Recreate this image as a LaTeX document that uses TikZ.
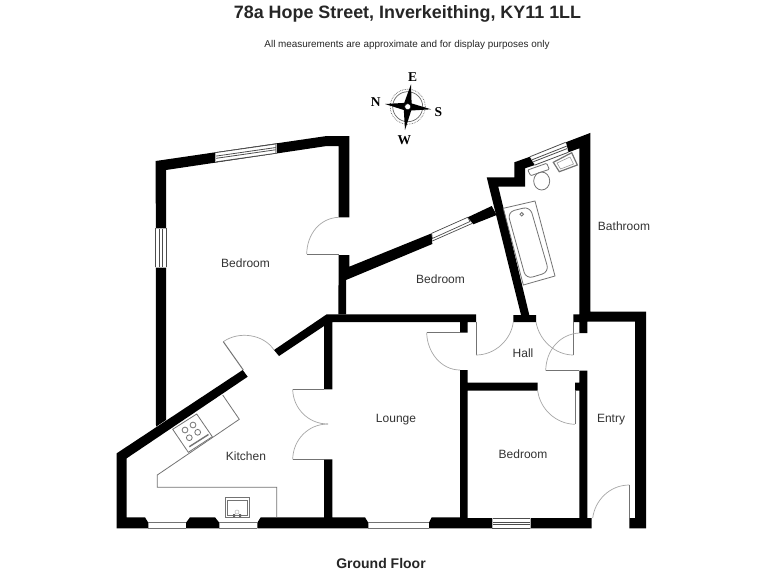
\documentclass[tikz,border=0pt]{standalone}
\usepackage{fontspec}
\setmainfont{Liberation Sans}
\newfontfamily\compassfont{Liberation Serif}
\usetikzlibrary{calc}
\tikzset{
  wall/.style={fill=black,draw=none},
  fixture/.style={draw=black!55,line width=0.8pt,fill=none},
  swing/.style={draw=black!35,line width=0.7pt},
  leaf/.style={draw=black!55,line width=1pt},
  roomlabel/.style={font=\fontsize{12pt}{14pt}\selectfont,text=black!80,inner sep=0pt},
  compassletter/.style={font=\compassfont\bfseries\fontsize{13.5pt}{15pt}\selectfont,inner sep=0pt},
  sill/.style={draw=black!55,line width=1pt},
}
\newcommand{\flatwindow}[4]{%
  \fill[white] #1 -- #2 -- #3 -- #4 -- cycle;
  \draw[black!70,line width=0.8pt] #1 -- #2 ($#1!.38!#4$) -- ($#2!.38!#3$) ($#1!.62!#4$) -- ($#2!.62!#3$) #4 -- #3;
  \draw[black!30,line width=0.4pt] #1 -- #4 #2 -- #3;
}
\begin{document}
\begin{tikzpicture}[x=1pt,y=-1pt]
\useasboundingbox (0,0) rectangle (768,576);
\fill[white] (0,0) rectangle (768,576);
% titles
\node[font=\bfseries\fontsize{17.9pt}{20pt}\selectfont,text=black!85,inner sep=0pt] (title) at (407.5,14) {78a Hope Street, Inverkeithing, KY11 1LL};
\node[font=\fontsize{9.9pt}{12pt}\selectfont,text=black!85,inner sep=0pt] (subtitle) at (407,45) {All measurements are approximate and for display purposes only};
\node[font=\bfseries\fontsize{14pt}{16pt}\selectfont,text=black!85,inner sep=0pt] (floor) at (381,563) {Ground Floor};
% compass
\coordinate (cc) at (407.7,106.7);
\draw[black!60,line width=0.7pt] (cc) circle (15);
\draw[black!60,line width=0.7pt,densely dotted] (cc) circle (17.5);
\fill[black] (385,104) -- (404.2,102.9) -- (411,84.3) -- (411.6,103.4) -- (431,109.3) -- (411.2,110.5) -- (405,130) -- (403.8,110) -- cycle;
\fill[white] (cc) circle (3);
\draw[black,line width=0.4pt] (cc) circle (3);
\node[compassletter] (cn) at (375.7,102.3) {N};
\node[compassletter] (ce) at (412.7,77.3) {E};
\node[compassletter] (cs) at (438.3,111.7) {S};
\node[compassletter] (cw) at (404.3,140) {W};
% bedroom 1 walls
\path[wall] (155.7,161) -- (326.7,136) -- (349.3,136) -- (349.3,217.3) -- (338.7,217.3) -- (338.7,146) -- (326.7,146) -- (166,170) -- (166,420) -- (156,426.7) -- cycle;
\flatwindow{(215,152.7)}{(275.7,144)}{(275.7,153.3)}{(215,162)}
\flatwindow{(155.7,228.3)}{(155.7,267.3)}{(166,267.3)}{(166,228.3)}
% centre wall and diagonal with windows
\path[wall] (338.7,255) -- (349.3,255) -- (349.3,266.7) -- (431.7,233.3) -- (432.3,244) -- (346,280) -- (346,314.3) -- (338.3,314.3) -- cycle;
\path[wall] (467.7,217.3) -- (491.7,206) -- (496.7,215) -- (473.3,224.3) -- cycle;
\draw[black!70,line width=0.7pt,fill=white] (431.7,233.3) -- (467.7,217.3) -- (470,221.5) -- (432.3,238.5) -- cycle;
\draw[black!70,line width=0.7pt] (432.3,241) -- (472,223.5);
% bathroom walls
\path[wall] (486.7,177.3) -- (514.3,177.3) -- (514.3,162.3) -- (530,156.7) -- (535,165) -- (525,168.3) -- (525,186.7) -- (498.3,186.7) -- (529.3,315) -- (536,315) -- (536,322) -- (513.3,322) -- (513.3,315) -- (521,315) -- cycle;
\path[wall] (565.7,142.3) -- (590.4,132.9) -- (590.4,311.7) -- (646,311.7) -- (646,528.3) -- (629.3,528.3) -- (629.3,518) -- (635,518) -- (635,321.7) -- (587.3,321.7) -- (587.3,333) -- (579.3,333) -- (579.3,322) -- (573.3,322) -- (573.3,314.3) -- (579.3,314.3) -- (579.3,148.3) -- (568.3,152.3) -- cycle;
\flatwindow{(530,156.7)}{(565.7,142.3)}{(568.3,152.3)}{(535,165)}
% long horizontal walls
\path[wall] (326.7,314.3) -- (476,314.3) -- (476,322) -- (467.7,322) -- (467.7,332.7) -- (460,332.7) -- (460,322) -- (332.3,322) -- (332.3,389.3) -- (324,389.3) -- (324,326) -- (279,356) -- (274,350) -- cycle;
% kitchen outer + bottom
\path[wall] (116.7,453.3) -- (242.7,370) -- (247.7,376.7) -- (126.7,458.3) -- (126.7,517.3) -- (145,517.3) -- (148.3,522.7) -- (148.3,528.3) -- (116.7,528.3) -- cycle;
\path[wall] (186,528.3) -- (186,522.7) -- (190,517.3) -- (215,517.3) -- (219.3,522.7) -- (219.3,528.3) -- cycle;
\path[wall] (257.3,528.3) -- (257.3,522.7) -- (260.7,517.3) -- (324,517.3) -- (324,459.3) -- (332.3,459.3) -- (332.3,517.3) -- (365,517.3) -- (368.3,522.7) -- (368.3,528.3) -- cycle;
\draw[sill] (148.3,522.3) -- (186,522.3) (148.3,528) -- (186,528);
\draw[sill] (219.3,522.3) -- (257.3,522.3) (219.3,528) -- (257.3,528);
\draw[sill] (368.3,522.3) -- (429,522.3) (368.3,528) -- (429,528);
\path[wall] (429,528.3) -- (429,522.7) -- (431.7,517.3) -- (460,517.3) -- (460,370) -- (467.7,370) -- (467.7,382.7) -- (537.7,382.7) -- (537.7,390.7) -- (467.7,390.7) -- (467.7,518) -- (492.3,518) -- (492.3,528.3) -- cycle;
\path[wall] (530,518) -- (579.3,518) -- (579.3,390.7) -- (575,390.7) -- (575,382.7) -- (579.3,382.7) -- (579.3,370.7) -- (587.3,370.7) -- (587.3,518) -- (591.7,518) -- (591.7,528.3) -- (530,528.3) -- cycle;
\flatwindow{(492.3,518)}{(530,518)}{(530,528.3)}{(492.3,528.3)}
% doors
\draw[swing] (306.7,254) .. controls (307,234) and (320,218) .. (338.7,217.3);
\draw[leaf] (306.7,254) -- (338.7,254);
\draw[swing] (223.3,341.7) .. controls (238.8,330.7) and (263.6,334.1) .. (274,350);
\draw[leaf] (223.3,341.7) -- (243.3,370);
\draw[swing] (292.7,389.3) .. controls (293,408) and (308,424) .. (328,424);
\draw[leaf] (292.7,389.3) -- (324,389.3);
\draw[swing] (292.7,459.3) .. controls (293,440) and (308,424) .. (328,424);
\draw[leaf] (292.7,459.3) -- (324,459.3);
\draw[leaf] (476,322) -- (476,355);
\draw[swing] (476,355) .. controls (495,355) and (511,340) .. (513.3,322);
\draw[swing] (426.7,332.7) .. controls (427,352) and (441,370) .. (460,370);
\draw[leaf] (426.7,332.7) -- (460,332.7);
\draw[leaf] (573.3,322) -- (573.3,355);
\draw[swing] (573.3,355) .. controls (555,355) and (539,340) .. (536,322);
\draw[swing] (545.7,370.7) .. controls (546,350) and (560,334) .. (579.3,333);
\draw[leaf] (545.7,370.7) -- (579.3,370.7);
\draw[swing] (537.7,390.7) .. controls (540,409) and (556,424) .. (575,424.3);
\draw[leaf] (575,390.7) -- (575,424.3);
\draw[swing] (629.3,485) .. controls (610,485) and (595,500) .. (592.7,518);
\draw[leaf] (629.3,485) -- (629.3,518);
% kitchen fixtures
\draw[fixture] (222.7,395) -- (239.3,419.3) -- (157.3,475) -- (157.3,487.3) -- (276.7,487.3) -- (276.7,517.3);
\draw[fixture,fill=white] (172.7,429.3) -- (196.7,414) -- (212.3,436.7) -- (188.3,452.3) -- cycle;
\foreach \bx/\by in {185/430,193/425,189.3/437.7,197.7/432.3}{
  \draw[fixture] (\bx,\by) circle (2.9);
}
\draw[black!55,line width=1.4pt] (189.3,446.7) -- (208.5,434.5);
\draw[fixture] (225.3,497.7) rectangle (249.3,517.3);
\draw[fixture] (227.5,500) rectangle (247,515);
\fill[black!60] (233,514) rectangle (235,517) (239,514) rectangle (241,517);
\draw[black!30,line width=0.5pt] (237,512) circle (2);
% bathroom fixtures
\draw[fixture] (503.3,208.3) -- (535,201) -- (555,276) -- (523.3,285) -- cycle;
\draw[fixture,rounded corners=7pt] (507.5,212) -- (530,206.5) -- (549,272) -- (526,279) -- cycle;
\draw[fixture] (521.7,214.3) circle (1.8);
\draw[fixture,rounded corners=1pt] (527.7,170) -- (546.7,163.3) -- (549.3,169.3) -- (530.7,175.7) -- cycle;
\draw[fixture] (541.7,181) ellipse (8 and 9);
\draw[fixture,line width=1.2pt] (553.3,162.3) -- (571.7,152.7) -- (577.3,165) -- (559.3,171.7) -- cycle;
\draw[black!40,line width=0.6pt] (557,163) -- (570,157) -- (573.5,164) -- (560.5,169) -- cycle;
% room labels
\node[roomlabel] (r1) at (245.5,263.5) {Bedroom};
\node[roomlabel] (r2) at (440.5,279) {Bedroom};
\node[roomlabel] (r3) at (624,226) {Bathroom};
\node[roomlabel] (r4) at (523,353) {Hall};
\node[roomlabel] (r5) at (396,419.5) {Lounge};
\node[roomlabel] (r6) at (246,456) {Kitchen};
\node[roomlabel] (r7) at (523,454) {Bedroom};
\node[roomlabel] (r8) at (611,419.5) {Entry};
\end{tikzpicture}
\end{document}
